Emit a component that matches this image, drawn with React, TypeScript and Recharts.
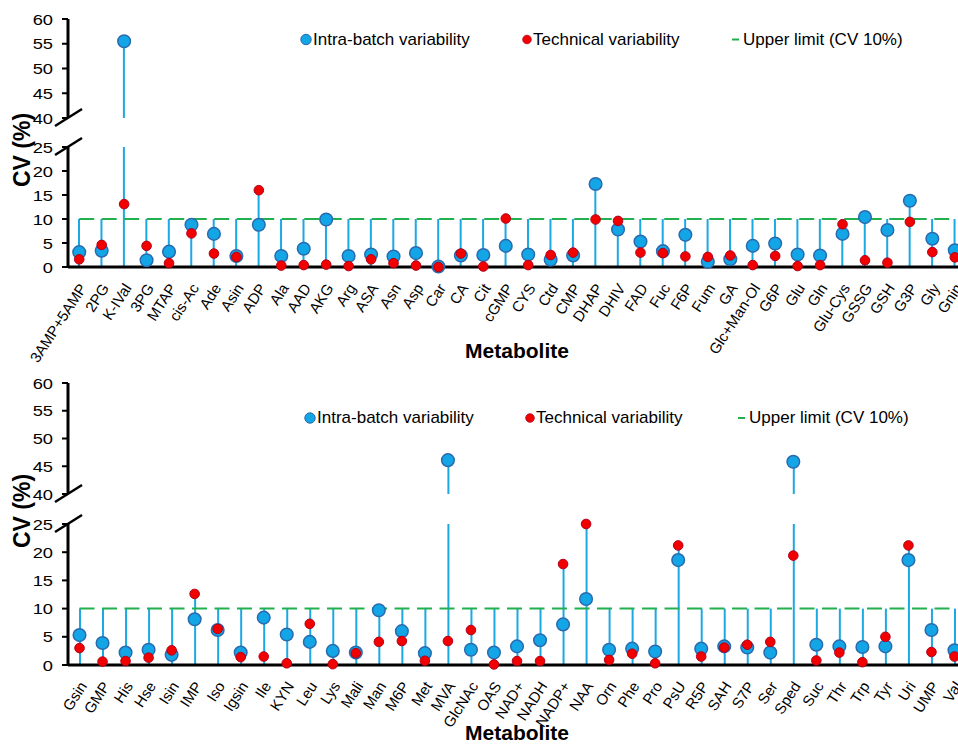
import React from "react";
import { ComposedChart, Bar, Line, XAxis, YAxis } from "recharts";

// upper panel
const TOP_NAMES = [
  "3AMP+5AMP", "2PG", "K-IVal", "3PG", "MTAP", "cis-Ac", "Ade", "Asin", "ADP", "Ala",
  "AAD", "AKG", "Arg", "ASA", "Asn", "Asp", "Car", "CA", "Cit", "cGMP",
  "CYS", "Ctd", "CMP", "DHAP", "DHIV", "FAD", "Fuc", "F6P", "Fum", "GA",
  "Glc+Man-Ol", "G6P", "Glu", "Gln", "Glu-Cys", "GSSG", "GSH", "G3P", "Gly", "Gnin",
];
const TOP_INTRA = [
  3.1, 3.4, 55.5, 1.4, 3.2, 8.8, 6.9, 2.3, 8.8, 2.3,
  3.8, 9.9, 2.3, 2.6, 2.2, 2.9, 0.1, 2.4, 2.5, 4.4,
  2.6, 1.5, 2.4, 17.3, 7.8, 5.3, 3.3, 6.7, 1.1, 1.6,
  4.4, 4.9, 2.6, 2.4, 6.9, 10.4, 7.7, 13.8, 5.9, 3.5,
];
const TOP_TECH = [
  1.6, 4.6, 13.1, 4.4, 0.8, 7.0, 2.8, 2.1, 16.0, 0.3,
  0.4, 0.5, 0.2, 1.6, 0.8, 0.3, 0.0, 2.8, 0.1, 10.1,
  0.4, 2.5, 3.0, 9.9, 9.6, 3.0, 2.9, 2.2, 2.1, 2.4,
  0.4, 2.3, 0.2, 0.4, 8.9, 1.4, 0.9, 9.4, 3.1, 2.0,
];

// lower panel
const BOTTOM_NAMES = [
  "Gsin", "GMP", "His", "Hse", "Isin", "IMP", "Iso", "Igsin", "Ile", "KYN",
  "Leu", "Lys", "Mali", "Man", "M6P", "Met", "MVA", "GlcNAc", "OAS", "NAD+",
  "NADH", "NADP+", "NAA", "Orn", "Phe", "Pro", "PsU", "R5P", "SAH", "S7P",
  "Ser", "Sped", "Suc", "Thr", "Trp", "Tyr", "Uri", "UMP", "Val",
];
const BOTTOM_INTRA = [
  5.3, 3.9, 2.2, 2.7, 1.8, 8.1, 6.2, 2.2, 8.4, 5.4,
  4.1, 2.5, 2.2, 9.7, 6.0, 2.1, 46.1, 2.7, 2.2, 3.3,
  4.4, 7.2, 11.7, 2.7, 2.9, 2.4, 18.6, 2.9, 3.3, 3.1,
  2.2, 45.8, 3.6, 3.3, 3.2, 3.3, 18.6, 6.2, 2.6,
];
const BOTTOM_TECH = [
  3.0, 0.6, 0.7, 1.3, 2.6, 12.6, 6.4, 1.4, 1.5, 0.3,
  7.3, 0.15, 2.1, 4.1, 4.25, 0.75, 4.25, 6.2, 0.1, 0.7,
  0.7, 17.9, 25.0, 0.9, 2.0, 0.3, 21.2, 1.5, 3.1, 3.6,
  4.1, 19.4, 0.8, 2.2, 0.5, 5.0, 21.2, 2.3, 1.5,
];

const LIMIT = 10;
const LOWER_TICKS = [0, 5, 10, 15, 20, 25];
const UPPER_TICKS = [40, 45, 50, 55, 60];
const LEGEND = ["Intra-batch variability", "Technical variability", "Upper limit (CV 10%)"];

const BLUE = "#13a6e6";
const BLUE_EDGE = "#2a6aae";
const RED = "#f20000";
const RED_EDGE = "#b0001a";
const STEM = "#1ca8e2";
const GREEN = "#22b04e";
const FONT = '"Liberation Sans", Arial, sans-serif';

const CHART_W = 970;
const AXIS_W = 68;
const LABEL_H = 115;

const LOWER_MAX = LOWER_TICKS[LOWER_TICKS.length - 1];
const UPPER_MIN = UPPER_TICKS[0];

function buildLower(names: string[], intra: number[], tech: number[]) {
  return names.map((name, i) => ({
    name,
    intra: intra[i] <= LOWER_MAX ? intra[i] : null,
    tech: tech[i],
    limit: LIMIT,
    stem: Math.min(Math.max(LIMIT, intra[i], tech[i]), LOWER_MAX),
  }));
}

function buildUpper(names: string[], intra: number[]) {
  return names.map((name, i) => ({
    name,
    intra: intra[i] >= UPPER_MIN ? intra[i] : null,
    stem: intra[i] >= UPPER_MIN ? [UPPER_MIN, intra[i]] : null,
  }));
}

const XTick = ({ x, y, payload }: any) => {
  const px = x + 8;
  const py = y + 21;
  return (
    <text x={px} y={py} textAnchor="end" fontSize={15} fill="#000" transform={`rotate(-57 ${px} ${py})`}>
      {payload.value}
    </text>
  );
};

const YTick = ({ x, y, payload }: any) => (
  <g transform={`translate(${x - 7},${y})`}>
    <text x={0} y={0} dy={5.5} textAnchor="end" fontSize={15} fill="#000" transform="scale(1.22,1)">
      {payload.value}
    </text>
  </g>
);

const yAxisProps = {
  width: AXIS_W,
  axisLine: { stroke: "#000", strokeWidth: 3 },
  tickLine: { stroke: "#000", strokeWidth: 2 },
  tickSize: 6,
  tick: YTick,
  interval: 0 as const,
};

function Panel({ names, intra, tech, upperTop, upperH, lowerTop, lowerH }: any) {
  const lower = buildLower(names, intra, tech);
  const upper = buildUpper(names, intra);
  return (
    <>
      <div style={{ position: "absolute", left: 0, top: upperTop - 19 }}>
        <ComposedChart width={CHART_W} height={19 + upperH + 12} data={upper}
          margin={{ top: 19, right: 4, bottom: 12, left: 0 }}>
          <XAxis dataKey="name" hide />
          <YAxis domain={[UPPER_MIN, UPPER_TICKS[UPPER_TICKS.length - 1]]} ticks={UPPER_TICKS} {...yAxisProps} />
          <Bar dataKey="stem" barSize={2} fill={STEM} isAnimationActive={false} />
          <Line dataKey="intra" stroke="none" isAnimationActive={false} activeDot={false}
            dot={{ r: 6.3, fill: BLUE, stroke: BLUE_EDGE, strokeWidth: 1.5 }} />
        </ComposedChart>
      </div>
      <div style={{ position: "absolute", left: 0, top: lowerTop - 17 }}>
        <ComposedChart width={CHART_W} height={17 + lowerH + LABEL_H} data={lower}
          margin={{ top: 17, right: 4, bottom: 0, left: 0 }}>
          <XAxis dataKey="name" interval={0} height={LABEL_H} tickSize={0} tickMargin={0}
            tickLine={false} axisLine={{ stroke: "#000", strokeWidth: 3 }} tick={XTick} />
          <YAxis domain={[0, LOWER_MAX]} ticks={LOWER_TICKS} {...yAxisProps} />
          <Bar dataKey="stem" barSize={2} fill={STEM} isAnimationActive={false} />
          <Line dataKey="limit" stroke={GREEN} strokeWidth={2} strokeDasharray="15 7.5"
            dot={false} activeDot={false} isAnimationActive={false} />
          <Line dataKey="intra" stroke="none" isAnimationActive={false} activeDot={false}
            dot={{ r: 6.3, fill: BLUE, stroke: BLUE_EDGE, strokeWidth: 1.5 }} />
          <Line dataKey="tech" stroke="none" isAnimationActive={false} activeDot={false}
            dot={{ r: 4.8, fill: RED, stroke: RED_EDGE, strokeWidth: 1 }} />
        </ComposedChart>
      </div>
    </>
  );
}

function Decor({ legendY, blueX, redX, greenX, upperBottom, lowerTop, cvY, titleY }: any) {
  return (
    <g>
      <circle cx={blueX} cy={legendY - 5} r={5.2} fill={BLUE} stroke={BLUE_EDGE} strokeWidth={1} />
      <text x={blueX + 7} y={legendY} fontSize={17}>{LEGEND[0]}</text>
      <circle cx={redX} cy={legendY - 5} r={4.3} fill={RED} stroke={RED_EDGE} strokeWidth={0.8} />
      <text x={redX + 6} y={legendY} fontSize={17}>{LEGEND[1]}</text>
      <line x1={greenX} x2={greenX + 7} y1={legendY - 5} y2={legendY - 5} stroke={GREEN} strokeWidth={2} />
      <text x={greenX + 11} y={legendY} fontSize={17}>{LEGEND[2]}</text>
      {/* axis break marks */}
      <line x1={AXIS_W - 13} y1={upperBottom + 8} x2={AXIS_W + 14} y2={upperBottom - 9} stroke="#000" strokeWidth={2.5} />
      <line x1={AXIS_W - 13} y1={lowerTop + 8} x2={AXIS_W + 14} y2={lowerTop - 9} stroke="#000" strokeWidth={2.5} />
      <text x={30} y={cvY} fontSize={23} fontWeight="bold" textAnchor="middle" transform={`rotate(-90 30 ${cvY})`}>
        CV (%)
      </text>
      <text x={517} y={titleY} fontSize={21} fontWeight="bold" textAnchor="middle">Metabolite</text>
    </g>
  );
}

export default function App() {
  return (
    <div style={{ position: "absolute", left: 0, top: 0, width: 958, height: 744, overflow: "hidden", background: "#fff", fontFamily: FONT }}>
      <Panel names={TOP_NAMES} intra={TOP_INTRA} tech={TOP_TECH} upperTop={19} upperH={99} lowerTop={147} lowerH={120} />
      <Panel names={BOTTOM_NAMES} intra={BOTTOM_INTRA} tech={BOTTOM_TECH} upperTop={383} upperH={111} lowerTop={524} lowerH={141} />
      <svg width={958} height={744} style={{ position: "absolute", left: 0, top: 0, pointerEvents: "none", fontFamily: FONT }}>
        <Decor legendY={44.5} blueX={306} redX={527} greenX={732} upperBottom={118} lowerTop={147} cvY={150} titleY={358} />
        <Decor legendY={423} blueX={310} redX={530} greenX={738} upperBottom={494} lowerTop={524} cvY={511} titleY={740} />
      </svg>
    </div>
  );
}
